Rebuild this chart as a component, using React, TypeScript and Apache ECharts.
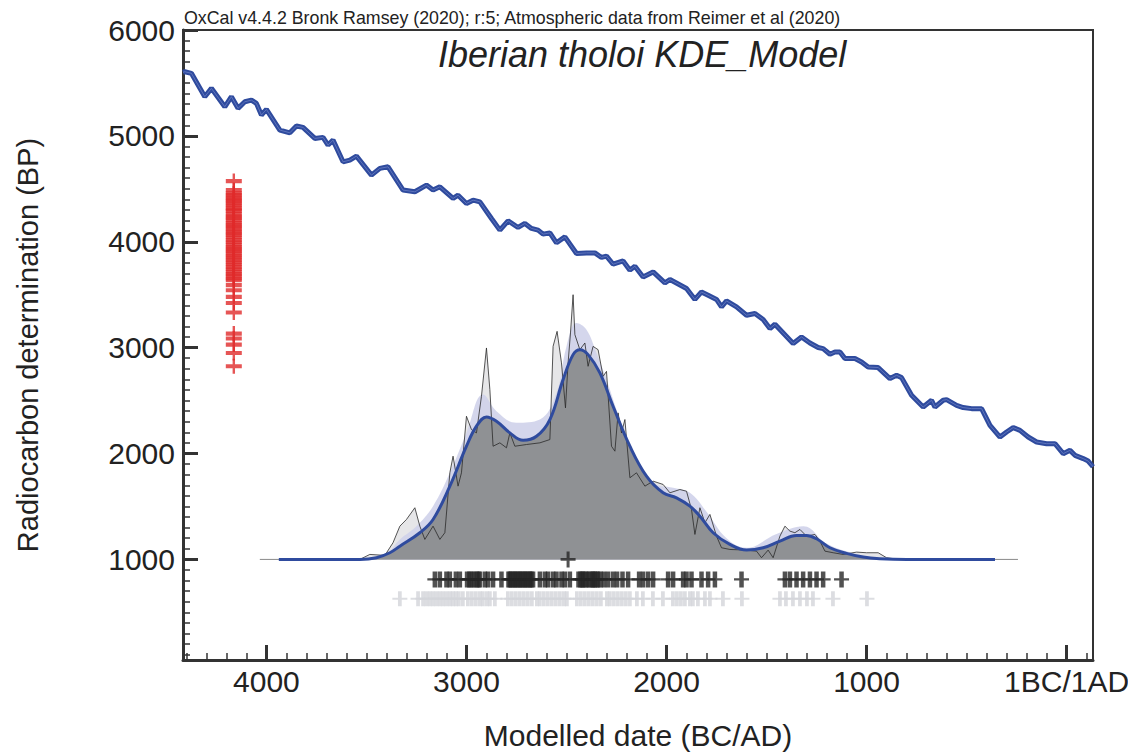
import React, { useEffect, useRef } from 'react';
import * as echarts from 'echarts';

// ---- axes ----
const X_MIN = -4417;
const X_MAX = 132;
const Y_MIN = 50;
const Y_MAX = 6000;
const X_MAJOR = [-4000, -3000, -2000, -1000, 0];
const X_LABELS = ['4000', '3000', '2000', '1000', '1BC/1AD'];
const Y_MAJOR = [1000, 2000, 3000, 4000, 5000, 6000];
const Y_LABELS = ['1000', '2000', '3000', '4000', '5000', '6000'];

// ---- texts ----
const CREDIT = 'OxCal v4.4.2 Bronk Ramsey (2020); r:5; Atmospheric data from Reimer et al (2020)';
const TITLE = 'Iberian tholoi KDE_Model';
const X_NAME = 'Modelled date (BC/AD)';
const Y_NAME = 'Radiocarbon determination (BP)';

// ---- calibration curve [year (BC negative), BP] ----
const calCurve = [
  [-4417, 5600], [-4408, 5606], [-4375, 5591], [-4308, 5370], [-4275, 5449], [-4208, 5275], [-4175, 5370],
  [-4142, 5260], [-4108, 5322], [-4075, 5338], [-4050, 5307], [-4025, 5197], [-4000, 5250], [-3933, 5055],
  [-3883, 5029], [-3850, 5093], [-3817, 5080], [-3758, 4976], [-3717, 4986], [-3692, 4913], [-3667, 4960],
  [-3617, 4755], [-3583, 4771], [-3550, 4809], [-3475, 4629], [-3433, 4693], [-3392, 4708], [-3317, 4488],
  [-3258, 4472], [-3200, 4535], [-3167, 4488], [-3133, 4519], [-3067, 4409], [-3042, 4440], [-3000, 4362],
  [-2967, 4393], [-2933, 4377], [-2875, 4220], [-2833, 4110], [-2792, 4198], [-2742, 4135], [-2708, 4173],
  [-2675, 4126], [-2642, 4110], [-2617, 4072], [-2583, 4084], [-2550, 3990], [-2508, 4046], [-2450, 3889],
  [-2400, 3895], [-2358, 3895], [-2325, 3852], [-2300, 3864], [-2267, 3788], [-2217, 3819], [-2183, 3732],
  [-2158, 3769], [-2117, 3668], [-2067, 3715], [-2008, 3611], [-1983, 3644], [-1900, 3559], [-1858, 3455],
  [-1825, 3526], [-1792, 3495], [-1750, 3455], [-1725, 3385], [-1700, 3441], [-1650, 3385], [-1600, 3306],
  [-1558, 3322], [-1517, 3266], [-1483, 3180], [-1458, 3221], [-1367, 3039], [-1325, 3101], [-1283, 3044],
  [-1242, 3001], [-1217, 2991], [-1183, 2938], [-1158, 2959], [-1133, 2959], [-1108, 2897], [-1058, 2897],
  [-1025, 2865], [-992, 2817], [-942, 2812], [-883, 2708], [-850, 2739], [-825, 2717], [-775, 2550],
  [-717, 2439], [-675, 2503], [-658, 2439], [-617, 2503], [-600, 2509], [-550, 2455], [-517, 2434],
  [-475, 2424], [-425, 2424], [-383, 2266], [-333, 2156], [-300, 2203], [-267, 2245], [-233, 2219],
  [-192, 2156], [-150, 2109], [-100, 2093], [-58, 2093], [-17, 1999], [17, 2030], [42, 1983], [83, 1952],
  [108, 1929], [132, 1875],
];

// ---- KDE model (heights drawn above the 1000 BP baseline) ----
const KDE_BASE = 1000;
const baseline = [[-4033, 1000], [-243, 1000]];
const kdeMean = [
  [-3938, 1000], [-3533, 1000], [-3450, 1016], [-3383, 1063], [-3333, 1125], [-3233, 1252], [-3167, 1377],
  [-3083, 1692], [-3000, 2069], [-2950, 2258], [-2900, 2346], [-2850, 2305], [-2783, 2195], [-2717, 2125],
  [-2650, 2163], [-2583, 2321], [-2517, 2698], [-2467, 2934], [-2433, 2981], [-2392, 2934], [-2333, 2761],
  [-2267, 2446], [-2183, 2069], [-2100, 1786], [-2017, 1629], [-1950, 1582], [-1883, 1503], [-1833, 1408],
  [-1767, 1252], [-1683, 1142], [-1600, 1088], [-1517, 1110], [-1433, 1173], [-1350, 1226], [-1300, 1226],
  [-1250, 1195], [-1183, 1110], [-1100, 1057], [-1017, 1022], [-933, 1007], [-800, 1000], [-358, 1000],
];
const kdeUpper = [
  [-3533, 1000], [-3400, 1060], [-3333, 1189], [-3250, 1314], [-3167, 1503], [-3083, 1818], [-3000, 2195],
  [-2917, 2557], [-2850, 2400], [-2750, 2290], [-2633, 2321], [-2550, 2573], [-2500, 3012], [-2450, 3233],
  [-2400, 3170], [-2350, 2950], [-2300, 2698], [-2233, 2321], [-2167, 2006], [-2067, 1724], [-1967, 1676],
  [-1883, 1629], [-1800, 1450], [-1700, 1200], [-1600, 1110], [-1450, 1240], [-1315, 1314], [-1200, 1150],
  [-1050, 1050], [-933, 1010], [-800, 1000],
];
const summedProb = [
  [-3533, 1000], [-3483, 1047], [-3408, 1038], [-3367, 1158], [-3333, 1314], [-3300, 1377], [-3258, 1488],
  [-3233, 1314], [-3208, 1189], [-3167, 1314], [-3133, 1189], [-3108, 1252], [-3083, 1818], [-3067, 1975],
  [-3042, 1692], [-3025, 1818], [-3000, 2352], [-2975, 2226], [-2950, 2195], [-2925, 2541], [-2900, 2997],
  [-2883, 2604], [-2867, 2069], [-2833, 2101], [-2800, 2054], [-2783, 2195], [-2758, 2069], [-2700, 2085],
  [-2633, 2101], [-2583, 2132], [-2567, 3012], [-2547, 3154], [-2525, 2856], [-2505, 2431], [-2492, 2856],
  [-2480, 3139], [-2467, 3500], [-2458, 3123], [-2433, 2981], [-2408, 3044], [-2392, 2824], [-2367, 3012],
  [-2342, 2981], [-2317, 2729], [-2300, 2776], [-2275, 2069], [-2258, 2022], [-2242, 2384], [-2225, 2195],
  [-2208, 2321], [-2183, 1771], [-2150, 1818], [-2108, 1692], [-2067, 1739], [-2017, 1708], [-1983, 1629],
  [-1933, 1660], [-1900, 1644], [-1875, 1472], [-1858, 1236], [-1833, 1488], [-1808, 1346], [-1783, 1425],
  [-1750, 1220], [-1725, 1110], [-1683, 1094], [-1600, 1088], [-1550, 1078], [-1525, 1016], [-1492, 1088],
  [-1467, 1016], [-1433, 1220], [-1408, 1314], [-1383, 1267], [-1358, 1252], [-1333, 1283], [-1300, 1220],
  [-1258, 1236], [-1233, 1173], [-1208, 1078], [-1167, 1063], [-1117, 1047], [-1050, 1069], [-1000, 1063],
  [-942, 1063], [-900, 1016], [-867, 1007], [-850, 1000],
];
const medianMark = [[-2492, 1000]];

// ---- sample crosses ----
const MODELLED_ROW_BP = 811;
const UNMODELLED_ROW_BP = 629;
const modelledDates = [
  -3158, -3133, -3100, -3083, -3053, -3033, -2997, -2985, -2975, -2962, -2950, -2940, -2933, -2908, -2892,
  -2867, -2825, -2790, -2783, -2775, -2765, -2758, -2750, -2740, -2733, -2725, -2715, -2708, -2700, -2690,
  -2683, -2675, -2667, -2633, -2608, -2592, -2567, -2550, -2525, -2508, -2483, -2440, -2430, -2420, -2417,
  -2405, -2395, -2385, -2372, -2367, -2360, -2350, -2342, -2330, -2313, -2292, -2267, -2247, -2220, -2192,
  -2137, -2117, -2092, -2067, -1992, -1967, -1917, -1900, -1875, -1825, -1792, -1758, -1625, -1408, -1383,
  -1350, -1317, -1283, -1250, -1217, -1125,
];
const unmodelledDates = [
  -3333, -3242, -3217, -3200, -3183, -3167, -3150, -3133, -3117, -3100, -3083, -3068, -3053, -3038, -3018,
  -2993, -2973, -2953, -2933, -2918, -2898, -2883, -2858, -2793, -2773, -2753, -2733, -2713, -2693, -2673,
  -2648, -2633, -2613, -2593, -2573, -2553, -2533, -2513, -2498, -2448, -2428, -2408, -2388, -2368, -2348,
  -2328, -2298, -2283, -2263, -2243, -2223, -2203, -2183, -2148, -2118, -2068, -2018, -1968, -1948, -1928,
  -1908, -1883, -1868, -1843, -1808, -1783, -1718, -1623, -1433, -1403, -1368, -1333, -1298, -1268, -1168,
  -998,
];
const RC_COLUMN_YEAR = -4163;
const rcDeterminations = [
  4573, 4488, 4457, 4440, 4418, 4400, 4385, 4362, 4345, 4320, 4305, 4288, 4262, 4240, 4225, 4203, 4180,
  4160, 4142, 4120, 4098, 4080, 4062, 4040, 4015, 3995, 3972, 3950, 3930, 3912, 3890, 3868, 3850, 3828,
  3805, 3785, 3762, 3740, 3718, 3695, 3675, 3653, 3637, 3590, 3542, 3479, 3422, 3332, 3133, 3086, 3029,
  2950, 2824,
];

const FONT = '"Liberation Sans", Arial, sans-serif';
const BLUE = '#2f4b9e';

// plus-sign symbols: [horizontal bar, vertical bar]
const CROSS_BLACK = 'path://M0,6.8L16,6.8L16,9.2L0,9.2Z M5.6,0L10.4,0L10.4,16L5.6,16Z';
const CROSS_MEDIAN = 'path://M0,6.6L16,6.6L16,9.4L0,9.4Z M6.4,0L9.6,0L9.6,16L6.4,16Z';
const CROSS_GRAY = 'path://M0,6.9L16,6.9L16,9.1L0,9.1Z M6,0L10,0L10,16L6,16Z';
const CROSS_RED = 'path://M0,5.8L16,5.8L16,10.2L0,10.2Z M6.8,0L9.2,0L9.2,16L6.8,16Z';

function minorTicks(min: number, max: number, step: number, majors: number[]) {
  const out: number[] = [];
  for (let v = Math.ceil(min / step) * step; v <= max; v += step) {
    if (!majors.includes(v)) out.push(v);
  }
  return out;
}

export default function App() {
  const ref = useRef<HTMLDivElement>(null);
  useEffect(() => {
    if (!ref.current) return;
    const chart = echarts.init(ref.current, null, { renderer: 'svg' });
    const xMinor = minorTicks(X_MIN, X_MAX, 100, X_MAJOR);
    const yMinor = minorTicks(Y_MIN, Y_MAX, 100, Y_MAJOR);
    const grid = {
      left: 183, right: 35, top: 30, bottom: 92, show: true, borderColor: '#333', borderWidth: 2,
      backgroundColor: 'transparent', containLabel: false, outerBoundsMode: 'none',
    };
    const option: any = {
      animation: false,
      textStyle: { fontFamily: FONT },
      grid,
      graphic: [
        { type: 'text', left: 184, top: 9, style: { text: CREDIT, font: `17.8px ${FONT}`, fill: '#222' } },
        { type: 'text', left: 438, top: 36, style: { text: TITLE, font: `italic 36px ${FONT}`, fill: '#222' } },
      ],
      xAxis: [
        {
          type: 'value', min: X_MIN, max: X_MAX, position: 'bottom',
          axisLine: { show: true, onZero: false, lineStyle: { color: '#333', width: 3 } },
          axisTick: { show: true, inside: true, length: 15, customValues: X_MAJOR, lineStyle: { color: '#333', width: 3 } },
          axisLabel: {
            show: true, customValues: X_MAJOR, margin: 6, fontSize: 30, color: '#222', fontFamily: FONT,
            formatter: (v: number) => X_LABELS[X_MAJOR.indexOf(v)] ?? '',
          },
          splitLine: { show: false },
          name: X_NAME, nameLocation: 'middle', nameGap: 60,
          nameTextStyle: { fontSize: 30, color: '#222', fontFamily: FONT },
        },
        {
          type: 'value', min: X_MIN, max: X_MAX, position: 'bottom',
          axisLine: { show: false, onZero: false },
          axisTick: { show: true, inside: true, length: 7, customValues: xMinor, lineStyle: { color: '#333', width: 1.5 } },
          axisLabel: { show: false },
          splitLine: { show: false },
        },
      ],
      yAxis: [
        {
          type: 'value', min: Y_MIN, max: Y_MAX, position: 'left',
          axisLine: { show: true, onZero: false, lineStyle: { color: '#333', width: 3 } },
          axisTick: { show: true, inside: true, length: 15, customValues: Y_MAJOR, lineStyle: { color: '#333', width: 3 } },
          axisLabel: {
            show: true, customValues: Y_MAJOR, margin: 8, fontSize: 30, color: '#222', fontFamily: FONT,
            formatter: (v: number) => Y_LABELS[Y_MAJOR.indexOf(v)] ?? '',
          },
          splitLine: { show: false },
          name: Y_NAME, nameLocation: 'middle', nameGap: 141, nameRotate: 90,
          nameTextStyle: { fontSize: 29, color: '#222', fontFamily: FONT },
        },
        {
          type: 'value', min: Y_MIN, max: Y_MAX, position: 'left',
          axisLine: { show: false, onZero: false },
          axisTick: { show: true, inside: true, length: 7, customValues: yMinor, lineStyle: { color: '#333', width: 1.5 } },
          axisLabel: { show: false },
          splitLine: { show: false },
        },
      ],
      series: [
        {
          name: 'baseline', type: 'line', data: baseline, symbol: 'none', z: 1,
          lineStyle: { color: '#8a8a8a', width: 1 },
        },
        {
          name: 'summedFill', type: 'line', data: summedProb, symbol: 'none', z: 2,
          lineStyle: { width: 0 }, areaStyle: { color: '#e6e6e8', opacity: 1, origin: KDE_BASE },
        },
        {
          name: 'kdeBand', type: 'line', data: kdeUpper, symbol: 'none', smooth: 0.4, z: 3,
          lineStyle: { width: 0 }, areaStyle: { color: '#cfd1ea', opacity: 0.9, origin: KDE_BASE },
        },
        {
          name: 'kdeFill', type: 'line', data: kdeMean, symbol: 'none', smooth: 0.4, z: 4,
          lineStyle: { width: 0 }, areaStyle: { color: '#8f9194', opacity: 1, origin: KDE_BASE },
        },
        {
          name: 'summedLine', type: 'line', data: summedProb, symbol: 'none', z: 5,
          lineStyle: { color: '#2a2a2a', width: 0.8 },
        },
        {
          name: 'kdeMean', type: 'line', data: kdeMean, symbol: 'none', smooth: 0.4, z: 6,
          lineStyle: { color: BLUE, width: 3 },
        },
        {
          name: 'calCurve', type: 'line', data: calCurve, symbol: 'none', z: 6,
          lineStyle: { color: BLUE, width: 5 },
        },
        {
          name: 'calCurveInner', type: 'line', data: calCurve, symbol: 'none', z: 6,
          lineStyle: { color: '#6b7fc4', width: 0.8 },
        },
        {
          name: 'median', type: 'scatter', data: medianMark, symbol: CROSS_MEDIAN, symbolSize: [15, 16], z: 7,
          itemStyle: { color: '#262626' },
        },
        {
          name: 'modelled', type: 'scatter', data: modelledDates.map((d) => [d, MODELLED_ROW_BP]),
          symbol: CROSS_BLACK, symbolSize: [15, 16], z: 7, itemStyle: { color: '#262626' },
        },
        {
          name: 'unmodelled', type: 'scatter', data: unmodelledDates.map((d) => [d, UNMODELLED_ROW_BP]),
          symbol: CROSS_GRAY, symbolSize: [15, 15], z: 7, itemStyle: { color: '#d3d5da' },
        },
        {
          name: 'rc', type: 'scatter', data: rcDeterminations.map((d) => [RC_COLUMN_YEAR, d]),
          symbol: CROSS_RED, symbolSize: [16, 15], z: 7, itemStyle: { color: '#e02a2a' },
        },
      ],
    };
    chart.setOption(option);
    return () => chart.dispose();
  }, []);
  return <div ref={ref} style={{ position: 'absolute', left: 0, top: 0, width: 1128, height: 752 }} />;
}
